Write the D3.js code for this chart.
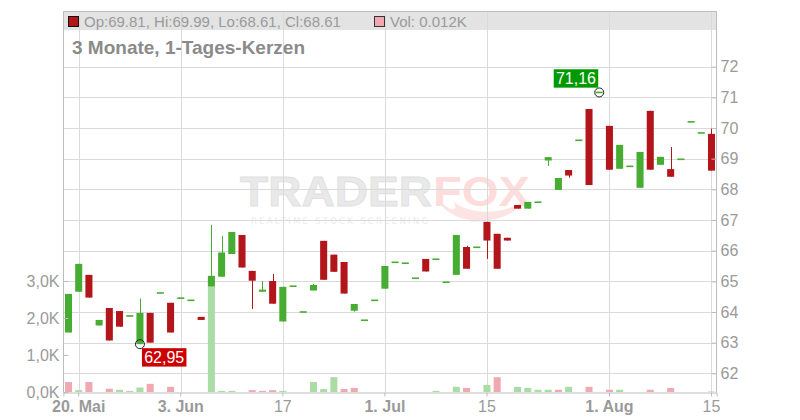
<!DOCTYPE html>
<html>
<head>
<meta charset="utf-8">
<script src="https://cdn.jsdelivr.net/npm/d3@7"></script>
<style>
  html, body { margin: 0; padding: 0; background: #fff; }
  svg { display: block; font-family: "Liberation Sans", Arial, sans-serif; }
</style>
</head>
<body>
<svg id="chart" width="800" height="420"></svg>
<script>
// ---------------- data ----------------
const dates = [
  "2024-05-17","2024-05-20","2024-05-21","2024-05-22","2024-05-23","2024-05-24","2024-05-27","2024-05-28","2024-05-29","2024-05-30",
  "2024-05-31","2024-06-03","2024-06-04","2024-06-05","2024-06-06","2024-06-07","2024-06-10","2024-06-11","2024-06-12","2024-06-13",
  "2024-06-14","2024-06-17","2024-06-18","2024-06-19","2024-06-20","2024-06-21","2024-06-24","2024-06-25","2024-06-26","2024-06-27",
  "2024-06-28","2024-07-01","2024-07-02","2024-07-03","2024-07-04","2024-07-05","2024-07-08","2024-07-09","2024-07-10","2024-07-11",
  "2024-07-12","2024-07-15","2024-07-16","2024-07-17","2024-07-18","2024-07-19","2024-07-23","2024-07-24","2024-07-25","2024-07-26",
  "2024-07-29","2024-07-30","2024-07-31","2024-08-01","2024-08-02","2024-08-05","2024-08-06","2024-08-07","2024-08-08","2024-08-09",
  "2024-08-12","2024-08-13","2024-08-14","2024-08-15"
];
const open = [
  63.33,64.66,65.21,63.56,64.13,64.03,63.87,62.95,63.97,64.62,
  64.30,64.45,64.38,63.84,64.83,65.15,65.89,66.51,65.34,64.66,
  65.01,63.69,64.84,64.00,64.70,66.32,65.87,65.63,64.04,63.73,
  64.38,64.76,65.62,65.59,65.10,65.73,65.72,64.97,65.21,66.12,
  66.11,66.94,66.55,66.42,67.49,67.37,67.58,68.94,67.98,68.63,
  69.60,70.62,71.16,70.07,68.67,68.75,68.05,70.56,68.80,68.66,
  68.98,70.20,69.84,69.81
];
const high = [
  64.59,65.57,65.21,63.74,64.13,64.03,63.87,64.44,63.97,64.62,
  64.30,64.45,64.38,63.84,66.84,66.48,66.61,66.51,65.34,65.01,
  65.24,64.82,64.84,64.00,64.91,66.32,65.87,65.63,64.26,63.73,
  64.38,65.50,65.62,65.59,65.10,65.73,65.72,64.97,66.51,66.16,
  66.11,66.94,66.55,66.42,67.49,67.59,67.58,69.05,68.37,68.63,
  69.60,70.62,71.16,70.07,69.45,68.75,69.22,70.56,69.06,69.38,
  68.98,70.20,69.84,69.99
];
const low = [
  63.33,64.66,64.47,63.56,63.07,63.52,63.87,62.95,63.00,64.62,
  63.33,64.45,64.38,63.74,64.83,65.15,65.89,65.45,64.10,64.66,
  64.27,63.69,64.84,64.00,64.70,65.05,65.31,64.60,64.01,63.73,
  64.38,64.76,65.62,65.59,65.10,65.32,65.72,64.97,65.21,65.41,
  66.11,65.73,65.41,66.33,67.37,67.37,67.58,68.76,67.98,68.38,
  69.60,68.14,71.16,68.64,68.67,68.75,68.05,68.64,68.80,68.41,
  68.98,70.20,69.84,68.61
];
const close = [
  64.59,65.57,64.47,63.74,63.07,63.52,63.87,63.97,63.00,64.62,
  63.33,64.45,64.38,63.74,65.18,65.94,66.61,65.45,65.02,64.73,
  64.27,64.82,64.84,64.00,64.88,65.05,65.31,64.60,64.26,63.73,
  64.38,65.50,65.62,65.59,65.10,65.32,65.72,64.97,66.51,65.41,
  66.11,66.33,65.41,66.33,67.37,67.59,67.58,69.05,68.37,68.45,
  69.60,68.14,71.16,68.64,69.45,68.75,69.22,68.64,69.06,68.41,
  68.98,70.20,69.84,68.61
];
// volume in thousands
const volume = [
  0.27,0.05,0.27,0,0.09,0.06,0.03,0.12,0.22,0,
  0.14,0,0,0,2.85,0.03,0.03,0,0.05,0.03,
  0.05,0.03,0,0,0.27,0.08,0.40,0.08,0.11,0,
  0,0,0,0,0,0,0.03,0,0.14,0.11,
  0,0.19,0.40,0,0.14,0.11,0.06,0.06,0.06,0.14,
  0,0.14,0,0.06,0.06,0,0,0.06,0,0.11,
  0,0,0,0.012
];
// 1 = volume bar up-coloured (green), 0 = down-coloured (pink)
const volUp = [
  0,1,0,0,0,1,1,1,0,0,
  0,0,0,0,1,1,1,0,0,0,
  0,1,0,0,1,1,1,0,0,0,
  0,0,0,0,0,0,1,0,1,0,
  0,1,0,0,1,1,1,1,0,1,
  0,0,0,0,1,0,0,0,0,0,
  0,0,0,0
];
const priceTicks = [62,63,64,65,66,67,68,69,70,71,72];
const volTicks = [0,1,2,3];
const tickDates  = ["2024-05-20","2024-06-03","2024-06-17","2024-07-01","2024-07-15","2024-08-01","2024-08-15"];
const tickLabels = ["20. Mai","3. Jun","17","1. Jul","15","1. Aug","15"];
const tickBold   = [true,true,false,true,false,true,false];
const titleText = "3 Monate, 1-Tages-Kerzen";
const legendText = "Op:69.81, Hi:69.99, Lo:68.61, Cl:68.61";
const volLegendText = "Vol: 0.012K";

// ---------------- layout ----------------
const L = 63, R = 716, T = 11, B = 392;
const GREEN = "#46ad32", RED = "#b3161a";
const VGREEN = "#abdca6", VPINK = "#f0a9b1";
const GRID = "#dadada", FRAME = "#bdbdbd", LABEL = "#9a9a9a";

const svg = d3.select("#chart");

const x = d3.scaleBand().domain(dates).range([63.4, 716.6]).paddingInner(0.31).paddingOuter(0.155);
const y = d3.scaleLinear().domain([62, 72]).range([373.3, 66.7]);
const vy = d3.scaleLinear().domain([0, 3]).range([B, 281]);
const cx = d => x(d) + x.bandwidth() / 2;

// header band
svg.append("rect").attr("x", L).attr("y", T).attr("width", R - L).attr("height", 19).attr("fill", "#e3e3e3");

// watermark
const wm = svg.append("g").attr("class", "watermark");
wm.append("path")
  .attr("d", "M437,196 C445,226 505,232 530,196 C512,214 470,218 452,200 C462,212 448,214 437,196 Z")
  .attr("fill", "#fde4e4");
wm.append("path")
  .attr("d", "M470,222 C480,214 492,210 505,212 C495,218 486,222 470,222 Z")
  .attr("fill", "#fde4e4");
wm.append("text").attr("x", 240).attr("y", 206)
  .attr("font-family", "Liberation Sans, Arial, sans-serif").attr("font-weight", "bold").attr("font-size", 42)
  .attr("textLength", 192).attr("lengthAdjust", "spacingAndGlyphs")
  .attr("fill", "#e9e9e9").attr("stroke", "#e0e0e0").attr("stroke-width", 0.8).text("TRADER");
wm.append("text").attr("x", 433).attr("y", 206)
  .attr("font-family", "Liberation Sans, Arial, sans-serif").attr("font-weight", "bold").attr("font-size", 42)
  .attr("textLength", 97).attr("lengthAdjust", "spacingAndGlyphs")
  .attr("fill", "#fddcdc").text("FOX");
wm.append("text").attr("x", 251).attr("y", 224)
  .attr("font-family", "DejaVu Sans, sans-serif").attr("font-size", 8.5)
  .attr("textLength", 177).attr("lengthAdjust", "spacing")
  .attr("fill", "#ebebeb").text("REALTIME STOCK SCREENING");

// grid
const grid = svg.append("g").attr("class", "grid");
grid.selectAll("line.h").data(priceTicks).join("line").attr("class", "h")
  .attr("x1", L).attr("x2", R).attr("y1", d => Math.round(y(d)) + 0.5).attr("y2", d => Math.round(y(d)) + 0.5)
  .attr("stroke", GRID);
grid.selectAll("line.v").data(tickDates).join("line").attr("class", "v")
  .attr("x1", d => Math.round(cx(d)) + 0.5).attr("x2", d => Math.round(cx(d)) + 0.5)
  .attr("y1", T).attr("y2", B).attr("stroke", GRID);

// frame
svg.append("path")
  .attr("d", `M${L + 0.5},${B + 0.5} V${T + 0.5} H${R + 0.5} V${B + 0.5}`)
  .attr("fill", "none").attr("stroke", FRAME);

// volume bars
svg.append("g").selectAll("rect").data(dates).join("rect")
  .attr("x", d => x(d)).attr("width", x.bandwidth())
  .attr("y", (d, i) => vy(volume[i])).attr("height", (d, i) => vy(0) - vy(volume[i]))
  .attr("fill", (d, i) => volUp[i] ? VGREEN : VPINK);

// candles
const candles = svg.append("g").selectAll("g").data(dates).join("g");
const col = i => close[i] >= open[i] ? GREEN : RED;
candles.append("line")
  .attr("x1", d => Math.round(cx(d)) + 0.5).attr("x2", d => Math.round(cx(d)) + 0.5)
  .attr("y1", (d, i) => y(high[i])).attr("y2", (d, i) => y(low[i]))
  .attr("stroke", (d, i) => col(i)).attr("stroke-width", 1);
candles.append("rect")
  .attr("x", d => x(d)).attr("width", x.bandwidth())
  .attr("y", (d, i) => {
    const top = y(Math.max(open[i], close[i])), h = y(Math.min(open[i], close[i])) - top;
    return h < 1.6 ? top - 0.8 + h / 2 : top;
  })
  .attr("height", (d, i) => Math.max(1.6, y(Math.min(open[i], close[i])) - y(Math.max(open[i], close[i]))))
  .attr("fill", (d, i) => col(i));

// high / low annotations
const hiIdx = d3.maxIndex(high), loIdx = d3.minIndex(low);
const fmt = v => v.toFixed(2).replace(".", ",");
function marker(idx, val, color, dx, dy) {
  const px = cx(dates[idx]), py = y(val);
  svg.append("circle").attr("cx", px).attr("cy", py).attr("r", 4.5)
    .attr("fill", "none").attr("stroke", "#222").attr("stroke-width", 1);
  const g = svg.append("g");
  const w = 44.5, h = 18.4;
  g.append("rect").attr("x", px + dx).attr("y", py + dy).attr("width", w).attr("height", h).attr("fill", color);
  g.append("text").attr("x", px + dx + w / 2).attr("y", py + dy + h / 2 + 5.6)
    .attr("text-anchor", "middle").attr("font-size", 16).attr("fill", "#fff").text(fmt(val));
}
marker(hiIdx, high[hiIdx], "#009a00", -45.5, -23.2);
marker(loIdx, low[loIdx], "#cc0000", 2, 4);

// axes
const yAxis = d3.axisRight(y).tickValues(priceTicks).tickSize(-5).tickPadding(4).tickFormat(d3.format("d"));
const ya = svg.append("g").attr("transform", `translate(${R + 0.5},0)`).call(yAxis);
ya.select(".domain").remove();
ya.selectAll("line").attr("stroke", FRAME);
ya.selectAll("text").attr("font-size", 16).attr("fill", LABEL).attr("font-family", "Liberation Sans, Arial, sans-serif");

const vAxis = d3.axisLeft(vy).tickValues(volTicks).tickSize(-5).tickPadding(4)
  .tickFormat(d => d.toFixed(1).replace(".", ",") + "K");
const va = svg.append("g").attr("transform", `translate(${L + 0.5},0)`).call(vAxis);
va.select(".domain").remove();
va.selectAll("line").attr("stroke", FRAME);
va.selectAll("text").attr("font-size", 16).attr("fill", LABEL).attr("font-family", "Liberation Sans, Arial, sans-serif");

const xAxis = d3.axisBottom(x).tickValues(tickDates).tickSize(4).tickPadding(4)
  .tickFormat(d => tickLabels[tickDates.indexOf(d)]);
const xa = svg.append("g").attr("transform", `translate(0,${B + 0.5})`).call(xAxis);
xa.select(".domain").attr("stroke", FRAME);
xa.selectAll("line").attr("stroke", FRAME);
xa.selectAll("text").attr("font-size", 16).attr("fill", LABEL)
  .attr("font-family", "Liberation Sans, Arial, sans-serif")
  .attr("font-weight", d => tickBold[tickDates.indexOf(d)] ? "bold" : "normal");

// legend / header text
svg.append("rect").attr("x", 68.5).attr("y", 16.5).attr("width", 10).attr("height", 10)
  .attr("fill", RED).attr("stroke", "#111");
svg.append("text").attr("x", 84).attr("y", 27).attr("font-size", 15).attr("fill", LABEL).text(legendText);
svg.append("rect").attr("x", 374.5).attr("y", 16.5).attr("width", 10).attr("height", 10)
  .attr("fill", VPINK).attr("stroke", "#333");
svg.append("text").attr("x", 390).attr("y", 27).attr("font-size", 15).attr("fill", LABEL).text(volLegendText);
svg.append("text").attr("x", 72).attr("y", 54).attr("font-size", 19).attr("font-weight", "bold")
  .attr("fill", "#8a8a8a").text(titleText);
</script>
</body>
</html>
